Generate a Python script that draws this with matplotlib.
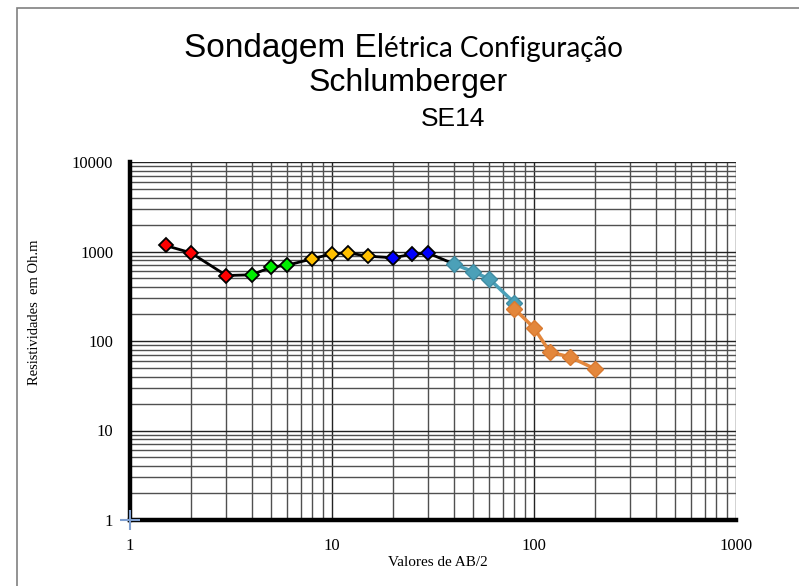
import matplotlib
matplotlib.use("Agg")
import matplotlib.pyplot as plt
from matplotlib.patches import Rectangle
import numpy as np

# dados da sondagem SE14 (AB/2, resistividade)
ab_vermelho = [1.5, 2, 3]
rho_vermelho = [1167, 967, 539]
ab_verde = [4, 5, 6]
rho_verde = [549, 668, 703]
ab_amarelo = [8, 10, 12, 15]
rho_amarelo = [829, 943, 967, 887]
ab_azul = [20, 25, 30]
rho_azul = [851, 933, 957]
ab_ciano = [40, 50, 60, 80]
rho_ciano = [728, 593, 495, 267]
ab_laranja = [80, 100, 120, 150, 200]
rho_laranja = [229, 140, 75, 66.6, 48.9]

ab_preto = ab_vermelho + ab_verde + ab_amarelo + ab_azul + ab_ciano[:1]
rho_preto = rho_vermelho + rho_verde + rho_amarelo + rho_azul + rho_ciano[:1]

serif = "Liberation Serif"

fig = plt.figure(figsize=(7.99, 5.86), dpi=100)
fig.patches.append(Rectangle((17 / 799, -0.1), 1.1, 1 - 8 / 586 + 0.1, transform=fig.transFigure,
                             fill=False, edgecolor="#808080", linewidth=1.2))
ax = fig.add_axes([130 / 799, 1 - 520 / 586, (736 - 130) / 799, (520 - 162) / 586])

ax.set_xscale("log")
ax.set_yscale("log")
ax.set_xlim(1, 1000)
ax.set_ylim(1, 10000)

ax.grid(True, which="major", color="#222222", linewidth=1.0)
ax.grid(True, which="minor", color="#505050", linewidth=1.0)
ax.set_axisbelow(True)

for s in ["top", "right"]:
    ax.spines[s].set_visible(False)
for s in ["left", "bottom"]:
    ax.spines[s].set_linewidth(3.2)
    ax.spines[s].set_color("black")

ax.set_xticks([1, 10, 100, 1000])
ax.set_xticklabels(["1", "10", "100", "1000"])
ax.set_yticks([1, 10, 100, 1000, 10000])
ax.set_yticklabels(["1", "10", "100", "1000", "10000"])
ax.tick_params(which="both", length=0)
ax.tick_params(axis="x", pad=13)
ax.tick_params(axis="y", pad=12)
for lab in ax.get_xticklabels() + ax.get_yticklabels():
    lab.set_fontfamily(serif)
    lab.set_fontsize(12)

ax.plot(ab_preto, rho_preto, color="black", linewidth=2, zorder=3)
ax.plot(ab_ciano, rho_ciano, color="#4BA0B8", linewidth=2.5, marker="D", markersize=8,
        markerfacecolor="#4BA0B8", markeredgecolor="#3F8CA3", zorder=4)
ax.plot(ab_laranja, rho_laranja, color="#E3873C", linewidth=2.5, marker="D", markersize=8,
        markerfacecolor="#E3873C", markeredgecolor="#D97A30", zorder=4)
for xs, ys, c in [(ab_vermelho, rho_vermelho, "#FF0000"), (ab_verde, rho_verde, "#00EE00"),
                  (ab_amarelo, rho_amarelo, "#FFC000"), (ab_azul, rho_azul, "#0000FF")]:
    ax.plot(xs, ys, linestyle="none", marker="D", markersize=7.5, markerfacecolor=c,
            markeredgecolor="black", markeredgewidth=1.3, zorder=5)

ax.plot([1], [1], marker="+", markersize=14, markeredgewidth=1.5, color="#7F9FD0",
        clip_on=False, zorder=6)

fig.text(438 / 799, 1 - 563 / 586, "Valores de AB/2", fontfamily=serif, fontsize=11,
         ha="center", va="center")
fig.text(35 / 799, 1 - 312 / 586, "Resistividades  em Oh.m", fontfamily=serif, fontsize=10.5,
         ha="center", va="center", rotation=90)

# titulo (fontes misturadas como no original)
fig.text(384 / 799, 1 - 57 / 586, "Sondagem El", fontfamily="Liberation Sans", fontsize=24,
         ha="right", va="baseline")
fig.text(384 / 799, 1 - 57 / 586, "étrica Configuração", fontfamily="Lato", fontsize=20,
         ha="left", va="baseline")
fig.text(408 / 799, 1 - 91 / 586, "Schlumberger", fontfamily="Liberation Sans", fontsize=23,
         ha="center", va="baseline")
fig.text(453 / 799, 1 - 126 / 586, "SE14", fontfamily="Liberation Sans", fontsize=19,
         ha="center", va="baseline")

fig.savefig("out.png", dpi=100)
